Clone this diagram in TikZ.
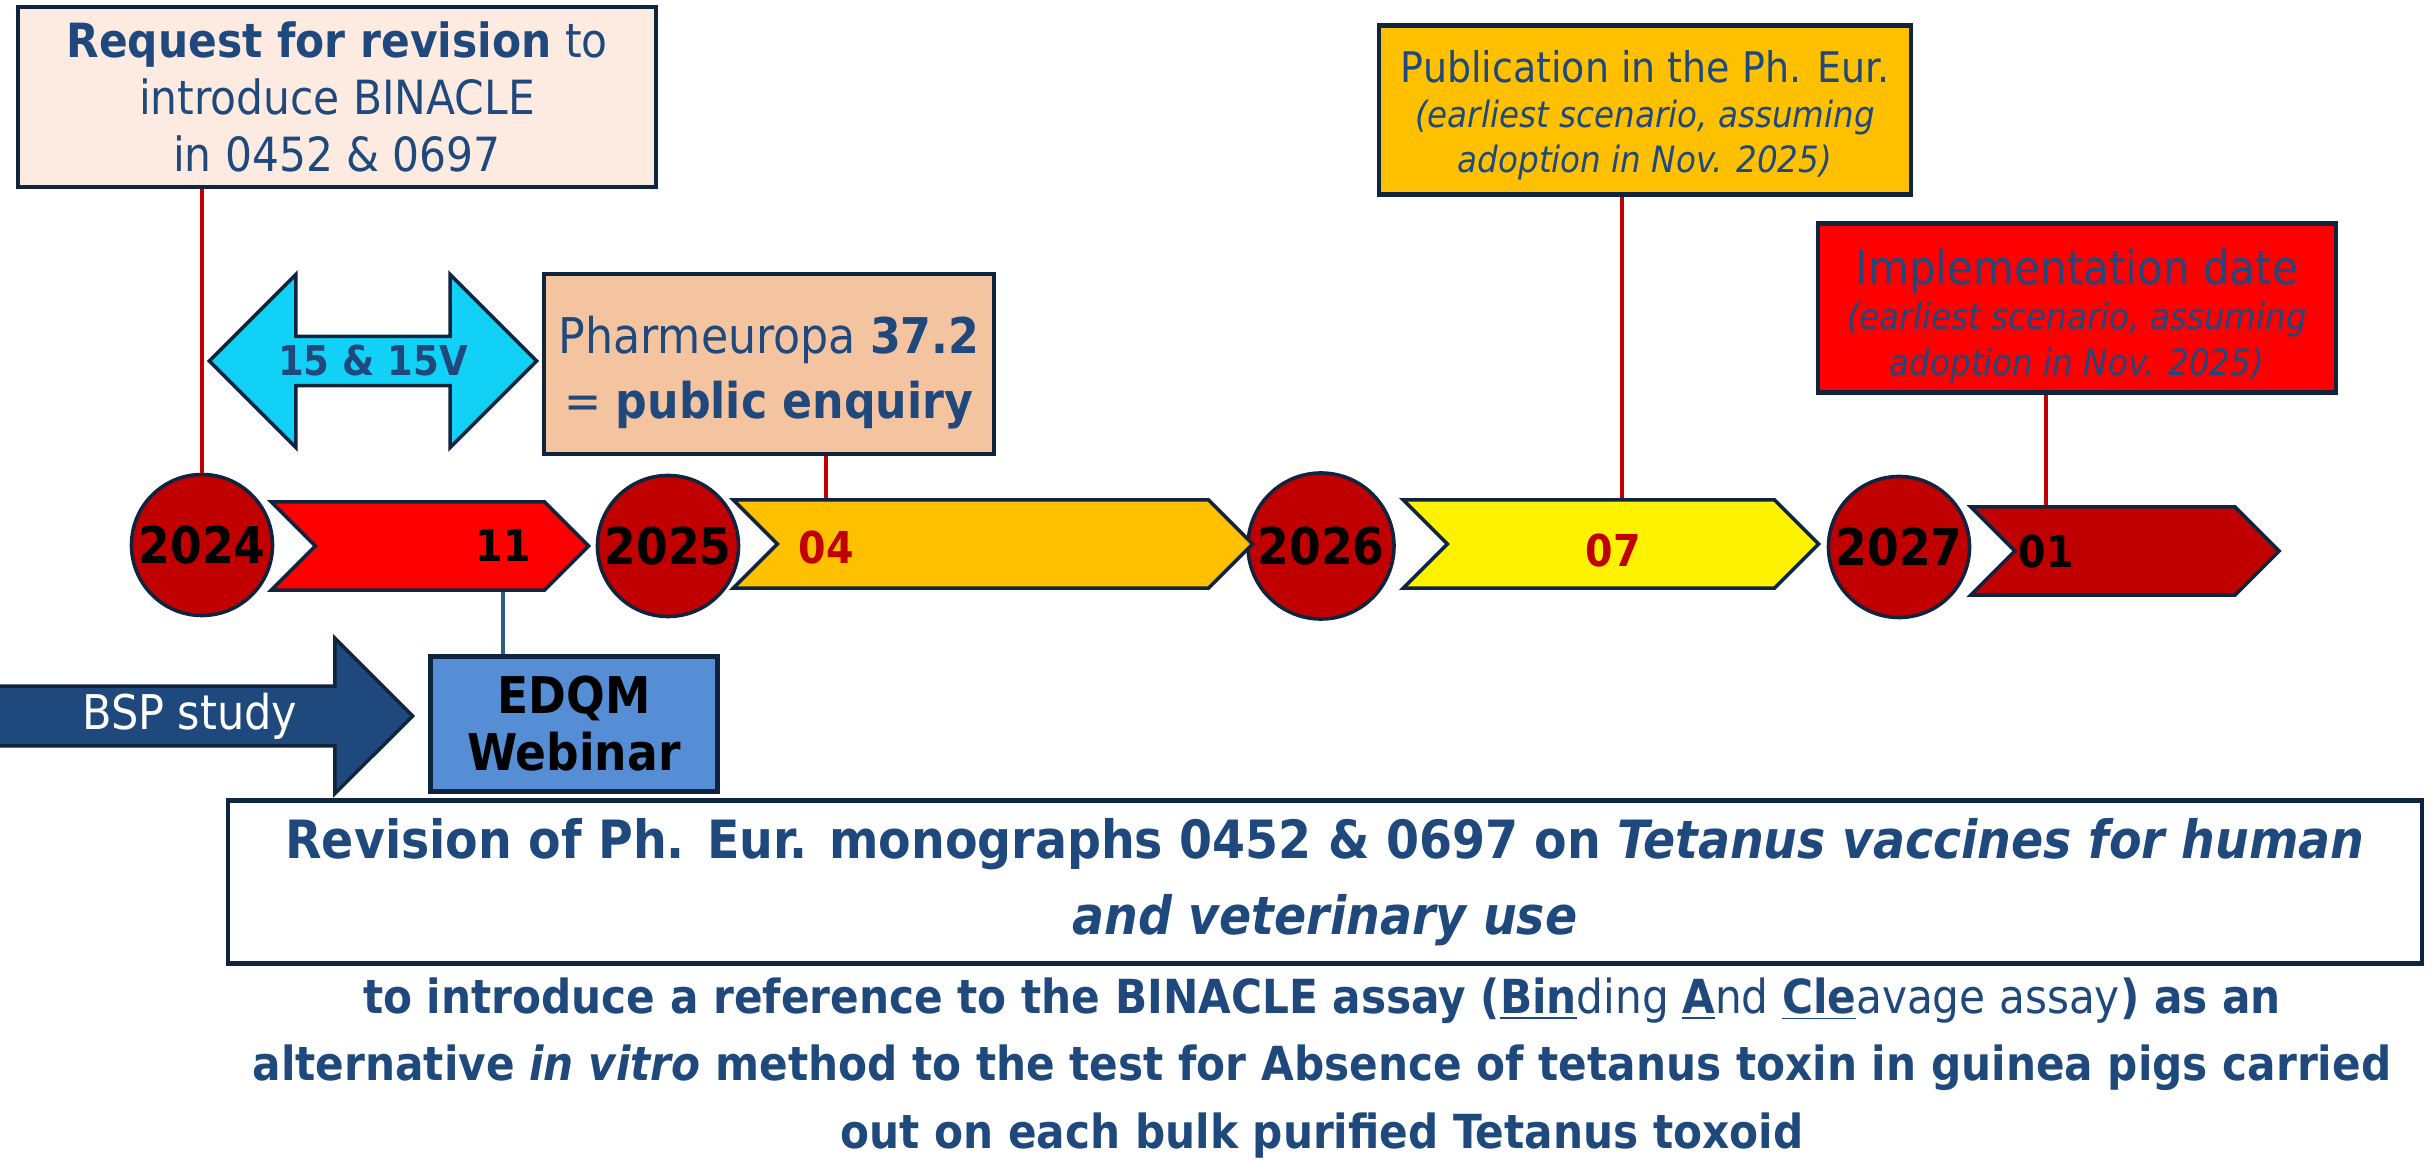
\documentclass[tikz,border=0pt]{standalone}
\usepackage{fontspec}
\setmainfont{DejaVu Sans Condensed}
\usetikzlibrary{shapes.symbols,shapes.arrows}

\definecolor{txtblue}{HTML}{1F497D}
\definecolor{navyline}{HTML}{0F243E}
\definecolor{darkred}{HTML}{C00000}
\definecolor{reqfill}{HTML}{FDEBE1}
\definecolor{pharmfill}{HTML}{F4C4A1}
\definecolor{cyanfill}{HTML}{12D1F6}
\definecolor{amber}{HTML}{FFC000}
\definecolor{webblue}{HTML}{558ED5}
\definecolor{wireblue}{HTML}{2F5D8A}

\begin{document}
\begin{tikzpicture}[x=0.01cm,y=-0.01cm,
    box/.style={draw=navyline,line width=1.2pt,inner sep=0pt,align=center,text=txtblue},
    year/.style={circle,draw=navyline,line width=1pt,fill=darkred,minimum size=1.41cm,inner sep=0pt,
        font=\bfseries\fontsize{14.4}{16}\selectfont},
    chev/.style={signal,signal from=west,signal to=east,draw=navyline,line width=1pt,inner sep=0pt,
        minimum height=0.88cm},
    month/.style={font=\bfseries\fontsize{12.5}{14}\selectfont},
    pin/.style={draw=darkred,line width=1.1pt},
    wire/.style={draw=wireblue,line width=1.1pt}]

  \useasboundingbox[fill=white] (0,0) rectangle (2432,1161);

  \node[box,fill=reqfill,minimum width=6.38cm,minimum height=1.80cm,
        font=\fontsize{13.4}{16.2}\selectfont] (req) at (337,97)
        {\textbf{Request for revision} to\\introduce BINACLE\\in 0452 \& 0697};
  \node[double arrow,double arrow head extend=0.435cm,draw=navyline,line width=1pt,fill=cyanfill,
        minimum height=3.27cm,minimum width=1.73cm,inner sep=0pt,text=txtblue,
        font=\bfseries\fontsize{11.7}{14}\selectfont] (rev15) at (373,361) {15 \& 15V};
  \node[box,fill=pharmfill,minimum width=4.50cm,minimum height=1.80cm,
        font=\fontsize{14}{18.5}\selectfont] (pharm) at (769,364)
        {\rule{0pt}{15.6pt}Pharmeuropa \textbf{37.2}\\= \textbf{public enquiry}};
  \node[box,fill=amber,minimum width=5.32cm,minimum height=1.69cm,
        font=\itshape\fontsize{10.3}{12.8}\selectfont] (pub) at (1645,110)
        {\upshape\fontsize{12}{15}\selectfont\rule{0pt}{12pt}Publication in the Ph. Eur.\\
         (earliest scenario, assuming\\adoption in Nov. 2025)};
  \node[box,fill=red,minimum width=5.17cm,minimum height=1.69cm,
        font=\itshape\fontsize{10.3}{13}\selectfont] (impl) at (2077,308)
        {\upshape\fontsize{13.3}{15}\selectfont\rule{0pt}{14.5pt}Implementation date\\
         (earliest scenario, assuming\\adoption in Nov. 2025)};

  \node[year] (y2024) at (202,545) {2024};
  \node[year] (y2025) at (668,546) {2025};
  \node[year,minimum size=1.46cm] (y2026) at (1321,546) {2026};
  \node[year] (y2027) at (1899,547) {2027};

  \node[chev,fill=red,minimum width=3.17cm] (ch1) at (430,546) {};
  \node[chev,fill=amber,minimum width=5.19cm] (ch2) at (993,544) {};
  \node[chev,fill=yellow,minimum width=4.15cm] (ch3) at (1611,544) {};
  \node[chev,fill=darkred,minimum width=3.08cm] (ch4) at (2125,551) {};

  \node[month] (m11) at (503,545) {11};
  \node[month,text=darkred] (m04) at (826,547) {04};
  \node[month,text=darkred] (m07) at (1613,551) {07};
  \node[month] (m01) at (2046,552) {01};

  \node[single arrow,single arrow head extend=0.395cm,draw=navyline,line width=1pt,fill=txtblue,
        minimum height=4.15cm,minimum width=1.55cm,inner sep=0pt,text=white,anchor=tip,
        font=\fontsize{13.6}{15}\selectfont] (bsp) at (415,716) {BSP study\hspace{0.42cm}};
  \node[box,fill=webblue,text=black,minimum width=2.87cm,minimum height=1.35cm,
        font=\bfseries\fontsize{14.4}{16.2}\selectfont] (web) at (574,724) {EDQM\\Webinar};

  \node[box,fill=white,minimum width=21.92cm,minimum height=1.63cm,
        font=\bfseries\fontsize{15}{21.6}\selectfont] (rev) at (1325,882)
        {Revision of Ph. Eur. monographs 0452 \& 0697 on \textit{Tetanus vaccines for human}\\
         \textit{and veterinary use}};
  \node[align=center,text=txtblue,font=\bfseries\fontsize{13.35}{19.3}\selectfont] (aim) at (1322,1068)
        {to introduce a reference to the BINACLE assay ({\mdseries\underline{\textbf{Bin}}ding
         \underline{\textbf{A}}nd \underline{\textbf{Cle}}avage assay}) as an\\
         alternative \textit{in vitro} method to the test for Absence of tetanus toxin in guinea pigs carried\\
         out on each bulk purified Tetanus toxoid};

  \draw[pin] (req.south -| y2024) -- (y2024.north);
  \draw[pin] (pharm.south -| m04) -- (m04 |- ch2.north);
  \draw[pin] ([xshift=-0.23cm]pub.south) -- ([xshift=-0.23cm]pub.south |- ch3.north);
  \draw[pin] (impl.south -| m01) -- (m01 |- ch4.north);
  \draw[wire] (ch1.south -| m11) -- (m11 |- web.north);

\end{tikzpicture}
\end{document}
